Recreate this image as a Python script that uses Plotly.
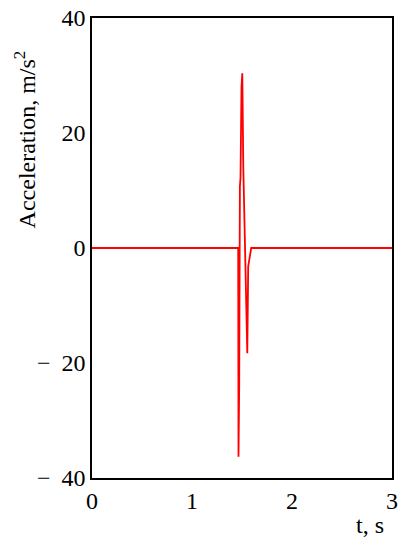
import plotly.graph_objects as go

# acceleration record
t_s = [0, 1.462, 1.465, 1.472, 1.479, 1.485, 1.495, 1.503, 1.513, 1.523,
       1.538, 1.553, 1.562, 1.572, 1.582, 1.592, 3]
accel = [0, 0, -36.3, -24, 10.7, 12.2, 28, 30.4, 14, 5.2,
         -7.9, -18.3, -3.2, -1.9, -0.8, 0, 0]

x_ticks = [0, 1, 2, 3]
y_ticks = [-40, -20, 0, 20, 40]
y_tick_text = ["\u2212\u00a0\u200940", "\u2212\u00a0\u200920", "0", "20", "40"]

font = dict(family="Liberation Serif, Times New Roman, serif", size=24, color="black")

fig = go.Figure()
fig.add_trace(go.Scatter(x=t_s, y=accel, mode="lines",
                         line=dict(color="#ff0000", width=1.8),
                         showlegend=False, hoverinfo="skip"))

fig.update_xaxes(range=[0, 3], tickvals=x_ticks, ticks="", showgrid=False,
                 zeroline=False, showline=True, linecolor="black", linewidth=1.5,
                 mirror=True, tickfont=font, automargin=False,
                 ticklabeloverflow="allow")
fig.update_yaxes(range=[-40, 40], tickvals=y_ticks, ticktext=y_tick_text, ticks="",
                 showgrid=False, zeroline=False, showline=True, linecolor="black",
                 linewidth=1.5, mirror=True, tickfont=font, automargin=False,
                 ticklabeloverflow="allow")

fig.add_annotation(text="t, s", xref="paper", yref="paper", x=0.927, y=-0.102,
                   xanchor="center", yanchor="middle", showarrow=False, font=font)
fig.add_annotation(text="Acceleration, m/s<sup>2</sup>", xref="paper", yref="paper",
                   x=-0.225, y=0.735, xanchor="center", yanchor="middle",
                   textangle=-90, showarrow=False, font=font)

# page body adds an 8px margin, so the figure is a bit smaller than the window
fig.update_layout(width=403, height=542, margin=dict(l=84, r=19, t=10, b=72),
                  paper_bgcolor="white", plot_bgcolor="white")

fig.write_html("out.html")
